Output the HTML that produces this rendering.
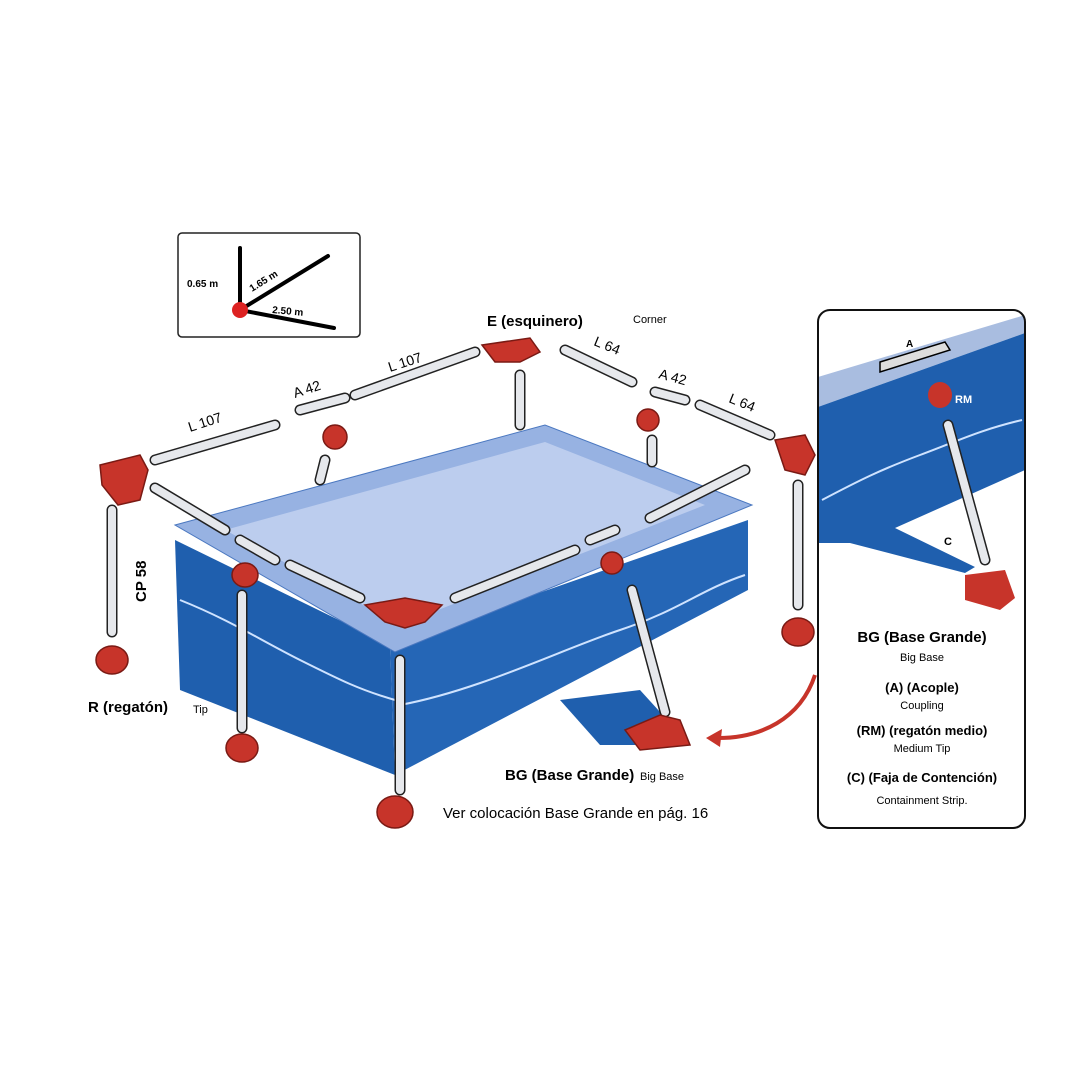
<!DOCTYPE html>
<html><head><meta charset="utf-8"><style>
body{margin:0;background:#fff;}
svg{display:block;font-family:"Liberation Sans",Arial,sans-serif;}
.rod{stroke:#222;stroke-width:11;stroke-linecap:round;fill:none}
.rodi{stroke:#e6e8ec;stroke-width:8;stroke-linecap:round;fill:none}
.red{fill:#c7342a;stroke:#7a1a14;stroke-width:1.5}
.b{font-weight:bold;font-size:15px}
.s{font-size:11px}
</style></head><body>
<svg width="1080" height="1080" viewBox="0 0 1080 1080">
<!-- inset -->
<rect x="178" y="233" width="182" height="104" rx="4" fill="#fff" stroke="#222" stroke-width="1.5"/>
<g stroke="#000" stroke-width="4" stroke-linecap="round">
<line x1="240" y1="310" x2="240" y2="248"/><line x1="240" y1="310" x2="328" y2="256"/><line x1="240" y1="310" x2="334" y2="328"/></g>
<circle cx="240" cy="310" r="8" fill="#d22"/>
<text x="187" y="287" font-size="10" font-weight="bold">0.65 m</text>
<text x="252" y="292" font-size="10" font-weight="bold" transform="rotate(-32 252 292)">1.65 m</text>
<text x="272" y="313" font-size="10" font-weight="bold" transform="rotate(5 272 313)">2.50 m</text>

<!-- pool -->
<polygon points="175,540 390,645 395,775 180,690" fill="#1f5fae"/>
<polygon points="390,645 748,520 748,590 395,775" fill="#2566b6"/>
<polygon points="560,700 640,690 690,745 600,745" fill="#1f5fae"/>
<polygon points="175,525 545,425 752,505 395,652" fill="#97b2e2" stroke="#4b78c0"/>
<polygon points="225,530 545,442 705,505 400,625" fill="#bccdee"/>
<path d="M180,600 C230,620 260,640 300,660 S360,690 395,700" stroke="#cfe3ff" stroke-width="2" fill="none"/>
<path d="M400,705 C480,690 560,650 620,630 S700,590 745,575" stroke="#cfe3ff" stroke-width="2" fill="none"/>

<!-- rods -->
<path class="rod" d="M155,460L275,425M300,410L345,398M355,395L475,352M565,350L632,382M655,392L685,400M700,405L770,435M155,488L225,530M240,540L275,560M290,565L360,598M455,598L575,550M590,540L615,530M650,518L745,470M112,510L112,632M242,595L242,728M400,660L400,790M632,590L665,712M798,485L798,605M520,375L520,425M325,460L320,480M652,440L652,462"/>
<path class="rodi" d="M155,460L275,425M300,410L345,398M355,395L475,352M565,350L632,382M655,392L685,400M700,405L770,435M155,488L225,530M240,540L275,560M290,565L360,598M455,598L575,550M590,540L615,530M650,518L745,470M112,510L112,632M242,595L242,728M400,660L400,790M632,590L665,712M798,485L798,605M520,375L520,425M325,460L320,480M652,440L652,462"/>

<!-- red parts -->
<g class="red">
<path d="M100,465 L140,455 L148,470 L140,500 L118,505 L102,485Z"/>
<path d="M482,345 L530,338 L540,352 L520,362 L495,362Z"/>
<path d="M775,440 L805,435 L815,455 L805,475 L785,470Z"/>
<path d="M365,605 L405,598 L442,605 L425,622 L405,628 L385,622Z"/>
<ellipse cx="112" cy="660" rx="16" ry="14"/>
<ellipse cx="242" cy="748" rx="16" ry="14"/>
<ellipse cx="395" cy="812" rx="18" ry="16"/>
<ellipse cx="798" cy="632" rx="16" ry="14"/>
<path d="M625,730 L660,715 L680,720 L690,745 L640,750Z"/>
<ellipse cx="335" cy="437" rx="12" ry="12"/>
<ellipse cx="245" cy="575" rx="13" ry="12"/>
<ellipse cx="648" cy="420" rx="11" ry="11"/>
<ellipse cx="612" cy="563" rx="11" ry="11"/>
</g>

<!-- labels -->
<text x="487" y="326" class="b">E (esquinero)</text><text x="633" y="323" class="s">Corner</text>
<g font-size="14">
<text x="190" y="432" transform="rotate(-18 190 432)">L 107</text>
<text x="295" y="398" transform="rotate(-18 295 398)">A 42</text>
<text x="390" y="372" transform="rotate(-18 390 372)">L 107</text>
<text x="593" y="345" transform="rotate(22 593 345)">L 64</text>
<text x="658" y="378" transform="rotate(15 658 378)">A 42</text>
<text x="728" y="402" transform="rotate(22 728 402)">L 64</text>
</g>
<text x="146" y="602" class="b" transform="rotate(-90 146 602)">CP 58</text>
<text x="88" y="712" class="b">R (regatón)</text><text x="193" y="713" class="s">Tip</text>
<text x="505" y="780" class="b">BG (Base Grande)</text><text x="640" y="780" class="s">Big Base</text>
<text x="443" y="818" font-size="15">Ver colocación Base Grande en pág. 16</text>

<!-- arrow -->
<path d="M815,675 C800,720 760,738 718,738" stroke="#c7342a" stroke-width="4" fill="none"/>
<polygon points="706,738 722,729 720,747" fill="#c7342a"/>

<!-- right panel -->
<clipPath id="cp"><rect x="818" y="310" width="207" height="518" rx="12"/></clipPath>
<g clip-path="url(#cp)">
<polygon points="818,377 1025,315 1025,333 818,407" fill="#a9bde0"/>
<polygon points="818,407 1025,333 1025,470 895,528 975,567 965,573 850,543 818,543" fill="#1f5fae"/>
<path d="M822,500 C860,480 880,470 920,455 S980,430 1022,420" stroke="#cfe3ff" stroke-width="2" fill="none"/>
<path d="M880,362 L945,342 L950,350 L880,372Z" fill="#ddd" stroke="#000" stroke-width="1.5"/>
<ellipse cx="940" cy="395" rx="12" ry="13" fill="#c7342a"/>
<path class="rod" d="M948,425 L985,560"/><path class="rodi" d="M948,425 L985,560"/>
<path d="M965,575 L1005,570 L1015,598 L1000,610 L965,600Z" fill="#c7342a"/>
</g>
<rect x="818" y="310" width="207" height="518" rx="12" fill="none" stroke="#111" stroke-width="2"/>
<text x="906" y="347" font-size="10" font-weight="bold">A</text>
<text x="955" y="403" font-size="11" font-weight="bold" fill="#fff">RM</text>
<text x="944" y="545" font-size="11" font-weight="bold">C</text>
<g text-anchor="middle">
<text x="922" y="642" class="b">BG (Base Grande)</text><text x="922" y="661" class="s">Big Base</text>
<text x="922" y="692" font-size="13" font-weight="bold">(A) (Acople)</text><text x="922" y="709" class="s">Coupling</text>
<text x="922" y="735" font-size="13" font-weight="bold">(RM) (regatón medio)</text><text x="922" y="752" class="s">Medium Tip</text>
<text x="922" y="782" font-size="13" font-weight="bold">(C) (Faja de Contención)</text><text x="922" y="804" class="s">Containment Strip.</text>
</g>
</svg>
</body></html>
